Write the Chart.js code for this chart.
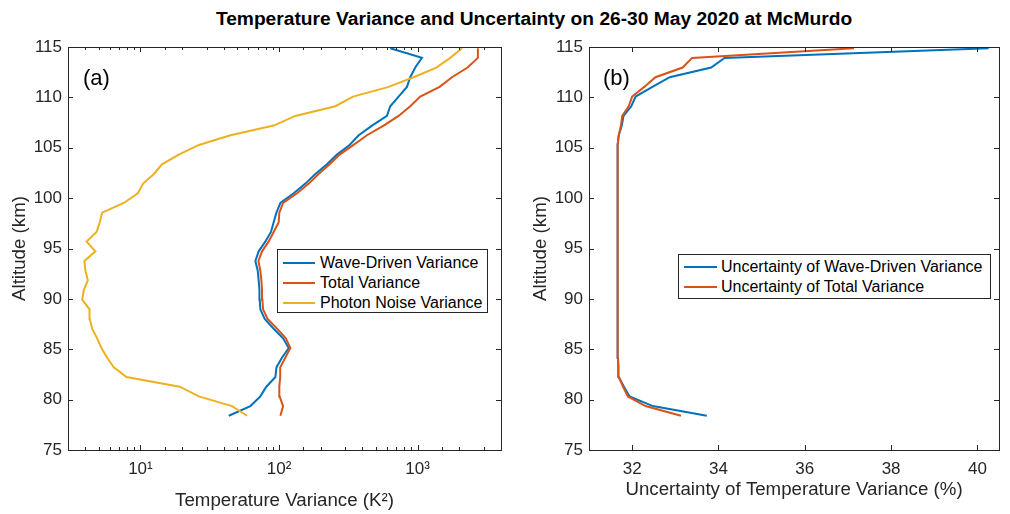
<!DOCTYPE html>
<html>
<head>
<meta charset="utf-8">
<script src="https://cdn.jsdelivr.net/npm/chart.js@4.4.3/dist/chart.umd.min.js"></script>
<style>
    body { margin: 0; background: #fff; width: 1010px; height: 514px; position: relative; overflow: hidden;
           font-family: "Liberation Sans", Arial, sans-serif; }
    canvas { position: absolute; top: 0; }
    #chartA { left: 0; }
    #chartB { left: 520px; }
    .mainTitle { position: absolute; left: 34px; width: 1000px; top: 9px; text-align: center;
                 font-size: 19.2px; line-height: 1; font-weight: bold; color: #000; }
    .panelLabel { position: absolute; font-size: 22px; line-height: 1; color: #000; }
    .legend { position: absolute; background: #fff; border: 1px solid #262626; box-sizing: border-box;
              font-size: 16px; color: #000; }
    .legend .row { display: flex; align-items: center; height: 20px; white-space: nowrap; }
    .legend .swatch { height: 2px; }
</style>
</head>
<body>
<div class="mainTitle">Temperature Variance and Uncertainty on 26-30 May 2020 at McMurdo</div>
<canvas id="chartA" width="520" height="514"></canvas>
<canvas id="chartB" width="490" height="514"></canvas>
<div class="panelLabel" style="left:83px; top:67px;">(a)</div>
<div class="panelLabel" style="left:603px; top:67px;">(b)</div>
<div class="legend" id="legendA" style="left:277px; top:249px; width:211px; height:64px; padding-top:3px;"></div>
<div class="legend" id="legendB" style="left:678px; top:254px; width:313px; height:45px; padding-top:2px;"></div>
<script>
// altitude levels (km), shared by every profile
const altitude = [78.4, 79.36, 80.32, 81.28, 82.24, 83.2, 84.16, 85.12, 86.08, 87.04,
    88.0, 88.96, 89.92, 90.88, 91.84, 92.8, 93.76, 94.72, 95.68, 96.64,
    97.6, 98.56, 99.52, 100.48, 101.44, 102.4, 103.36, 104.32, 105.28, 106.24,
    107.2, 108.16, 109.12, 110.08, 111.04, 112.0, 112.96, 113.92, 114.88];

// panel (a): variances in K^2
const waveVar = [43.4, 62.1, 73.3, 81.0, 94.2, 95.8, 105, 117.5, 107, 91.5,
    78.9, 73.3, 72.6, 72.2, 71.3, 70.2, 67.5, 71.3, 79.6, 87.5,
    91.5, 95.8, 102.3, 127.7, 155, 183, 222, 262, 323, 376,
    469, 601, 635, 729, 838, 885, 962, 1075, 635];
const totalVar = [102.3, 107, 101, 100.5, 102, 102, 111, 120.7, 112, 96.9,
    82.8, 76.7, 75.9, 75.4, 74.6, 73.3, 71.0, 75.4, 84.1, 91.5,
    99.5, 100.5, 107, 135, 164, 193, 232, 274, 345, 431,
    569, 729, 885, 1045, 1442, 1770, 2296, 2724, 2724];
const noiseVar = [58.8, 45.8, 26.4, 19.2, 7.93, 6.42, 5.75, 5.23, 4.87, 4.48,
    4.31, 4.29, 3.80, 3.90, 4.17, 4.01, 3.94, 4.73, 4.09, 4.82,
    5.09, 5.29, 7.59, 9.57, 10.45, 12.5, 14.3, 18.9, 26.4, 44.6,
    91.5, 131, 255, 342, 618, 935, 1365, 1722, 2090];

// panel (b): uncertainty in %
const uncWave = [33.73, 32.48, 31.94, 31.81, 31.69, 31.68, 31.67, 31.67, 31.67, 31.67,
    31.66, 31.66, 31.66, 31.66, 31.66, 31.66, 31.66, 31.66, 31.66, 31.66,
    31.66, 31.66, 31.66, 31.66, 31.67, 31.67, 31.67, 31.67, 31.67, 31.69,
    31.76, 31.80, 31.98, 32.08, 32.47, 32.87, 33.83, 34.14, 40.26];
const uncTotal = [33.13, 32.31, 31.90, 31.79, 31.69, 31.68, 31.67, 31.67, 31.67, 31.67,
    31.66, 31.66, 31.66, 31.66, 31.66, 31.66, 31.66, 31.66, 31.66, 31.66,
    31.66, 31.66, 31.66, 31.66, 31.67, 31.67, 31.67, 31.67, 31.67, 31.69,
    31.74, 31.77, 31.92, 32.00, 32.28, 32.54, 33.17, 33.39, 37.14];

// ticks
const altTicks = [75, 80, 85, 90, 95, 100, 105, 110, 115];
const varTicks = [10, 100, 1000];
const varTickLabels = ['10¹', '10²', '10³'];
const uncTicks = [32, 34, 36, 38, 40];

const blue = '#0072BD';
const orange = '#D95319';
const yellow = '#EDB120';
const axisColor = '#262626';
const FONT = '"Liberation Sans", Arial, sans-serif';

function series(label, values, color, order) {
    return {
        label,
        data: values.map((v, i) => ({ x: v, y: altitude[i] })),
        borderColor: color,
        borderWidth: 2,
        pointRadius: 0,
        tension: 0,
        fill: false,
        order
    };
}

function isMajorTick(scale, value) {
    if (scale.type !== 'logarithmic') return true;
    const e = Math.log10(value);
    return Math.abs(e - Math.round(e)) < 1e-9;
}

// MATLAB-like box with inward tick marks on all four sides
const matlabAxes = {
    id: 'matlabAxes',
    afterDatasetsDraw(chart) {
        const { ctx, chartArea: a, scales: { x, y } } = chart;
        ctx.save();
        ctx.strokeStyle = axisColor;
        ctx.lineWidth = 1;
        ctx.beginPath();
        x.ticks.forEach(t => {
            if (t.value <= x.min || t.value >= x.max) return;
            const px = Math.round(x.getPixelForValue(t.value)) + 0.5;
            const len = isMajorTick(x, t.value) ? 5 : 3;
            ctx.moveTo(px, a.bottom); ctx.lineTo(px, a.bottom - len);
            ctx.moveTo(px, a.top); ctx.lineTo(px, a.top + len);
        });
        y.ticks.forEach(t => {
            const py = Math.round(y.getPixelForValue(t.value)) + 0.5;
            ctx.moveTo(a.left, py); ctx.lineTo(a.left + 5, py);
            ctx.moveTo(a.right, py); ctx.lineTo(a.right - 5, py);
        });
        ctx.stroke();
        ctx.strokeRect(Math.round(a.left) + 0.5, Math.round(a.top) + 0.5,
            Math.round(a.right - a.left), Math.round(a.bottom - a.top));
        ctx.restore();
    }
};

const noGrid = { display: false, drawTicks: false };

function yScale(width, titlePad) {
    return {
        type: 'linear',
        min: 75,
        max: 115,
        grid: noGrid,
        border: { display: false },
        afterBuildTicks: s => { s.ticks = altTicks.map(v => ({ value: v })); },
        afterFit: s => { s.width = width; },
        ticks: { padding: 6, autoSkip: false, color: axisColor, font: { family: FONT, size: 17 } },
        title: { display: true, text: 'Altitude (km)', color: axisColor,
                 font: { family: FONT, size: 18.7 }, padding: { top: titlePad } }
    };
}

function baseOptions(padRight, xScale, yS) {
    return {
        responsive: false,
        animation: false,
        events: [],
        layout: { padding: { top: 47, right: padRight, bottom: 0, left: 0 } },
        plugins: { legend: { display: false }, tooltip: { enabled: false } },
        scales: { x: xScale, y: yS }
    };
}

new Chart(document.getElementById('chartA'), {
    type: 'line',
    data: { datasets: [
        series('Wave-Driven Variance', waveVar, blue, 2),
        series('Total Variance', totalVar, orange, 1),
        series('Photon Noise Variance', noiseVar, yellow, 0)
    ] },
    options: baseOptions(19, {
        type: 'logarithmic',
        min: 3,
        max: 4000,
        grid: noGrid,
        border: { display: false },
        afterFit: s => { s.height = 64; },
        ticks: {
            autoSkip: false, maxRotation: 0, padding: 9, color: axisColor,
            font: { family: FONT, size: 17 },
            callback: v => {
                const i = varTicks.findIndex(t => Math.abs(t - v) < 1e-6);
                return i >= 0 ? varTickLabels[i] : '';
            }
        },
        title: { display: true, text: 'Temperature Variance (K²)', color: axisColor,
                 font: { family: FONT, size: 18.7 }, padding: { bottom: 2 } }
    }, yScale(68, 9)),
    plugins: [matlabAxes]
});

new Chart(document.getElementById('chartB'), {
    type: 'line',
    data: { datasets: [
        series('Uncertainty of Wave-Driven Variance', uncWave, blue, 1),
        series('Uncertainty of Total Variance', uncTotal, orange, 0)
    ] },
    options: baseOptions(11, {
        type: 'linear',
        min: 31,
        max: 40.5,
        grid: noGrid,
        border: { display: false },
        afterBuildTicks: s => { s.ticks = uncTicks.map(v => ({ value: v })); },
        afterFit: s => { s.height = 64; },
        ticks: { autoSkip: false, maxRotation: 0, padding: 9, color: axisColor, font: { family: FONT, size: 17 } },
        title: { display: true, text: 'Uncertainty of Temperature Variance (%)', color: axisColor,
                 font: { family: FONT, size: 18.7 }, padding: { bottom: 13 } }
    }, yScale(69, 10)),
    plugins: [matlabAxes]
});

function buildLegend(id, items) {
    const box = document.getElementById(id);
    items.forEach(([text, color, swatchWidth, gap]) => {
        const row = document.createElement('div');
        row.className = 'row';
        const sw = document.createElement('div');
        sw.className = 'swatch';
        sw.style.width = swatchWidth + 'px';
        sw.style.background = color;
        sw.style.margin = `0 ${gap}px 0 5px`;
        const label = document.createElement('span');
        label.textContent = text;
        row.append(sw, label);
        box.appendChild(row);
    });
}

buildLegend('legendA', [
    ['Wave-Driven Variance', blue, 32, 5],
    ['Total Variance', orange, 32, 5],
    ['Photon Noise Variance', yellow, 32, 5]
]);
buildLegend('legendB', [
    ['Uncertainty of Wave-Driven Variance', blue, 33, 4],
    ['Uncertainty of Total Variance', orange, 33, 4]
]);
</script>
</body>
</html>
